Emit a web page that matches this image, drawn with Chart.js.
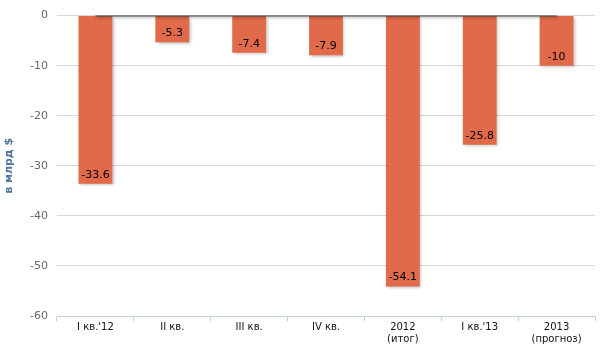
<!DOCTYPE html>
<html><head><meta charset="utf-8">
<script src="https://cdn.jsdelivr.net/npm/chart.js@4.4.0/dist/chart.umd.min.js"></script>
<style>html,body{margin:0;padding:0;background:#fff}#wrap{width:600px;height:356px}</style>
</head><body><div id="wrap"><canvas id="c" width="600" height="356"></canvas></div>
<script>
const categories = ["I кв.'12", "II кв.", "III кв.", "IV кв.", ["2012", "(итог)"], "I кв.'13", ["2013", "(прогноз)"]];
const values = [-33.6, -5.3, -7.4, -7.9, -54.1, -25.8, -10];
const zeroLine = [0, 0, 0, 0, 0, 0, 0];
const yTicks = [0, -10, -20, -30, -40, -50, -60];
const yTitle = "в млрд $";

const shadowPlugin = {
  id: 'shadow',
  beforeDatasetDraw(chart, args) {
    const ctx = chart.ctx;
    ctx.save();
    ctx.shadowColor = 'rgba(0,0,0,0.28)';
    ctx.shadowOffsetX = 1.5;
    ctx.shadowOffsetY = 1.5;
    ctx.shadowBlur = 3;
  },
  afterDatasetDraw(chart, args) {
    chart.ctx.restore();
  }
};

const labelPlugin = {
  id: 'vlabels',
  afterDatasetsDraw(chart) {
    const ctx = chart.ctx;
    const meta = chart.getDatasetMeta(0);
    ctx.save();
    ctx.font = '11px "DejaVu Sans", Verdana, sans-serif';
    ctx.fillStyle = '#000';
    ctx.textAlign = 'center';
    ctx.textBaseline = 'middle';
    meta.data.forEach((bar, i) => {
      ctx.fillText(String(values[i]), bar.x, bar.y - 9);
    });
    ctx.restore();
  }
};

new Chart(document.getElementById('c'), {
  data: {
    labels: categories,
    datasets: [
      {
        type: 'bar',
        data: values,
        backgroundColor: '#E06A49',
        borderWidth: 0,
        barPercentage: 0.44,
        categoryPercentage: 1.0,
        order: 2
      },
      {
        type: 'line',
        data: zeroLine,
        borderColor: '#444444',
        borderWidth: 2,
        pointRadius: 0,
        order: 1
      }
    ]
  },
  options: {
    responsive: false,
    animation: false,
    devicePixelRatio: 1,
    layout: { padding: { top: 6.4, right: 5, left: 0, bottom: 0 } },
    plugins: { legend: { display: false }, tooltip: { enabled: false } },
    scales: {
      x: {
        offset: true,
        grid: { offset: true, drawOnChartArea: false, drawTicks: true, tickLength: 5, color: '#C0D0E0' },
        border: { color: '#C0D0E0', width: 1 },
        ticks: { color: '#111', font: { family: '"DejaVu Sans", Verdana, sans-serif', size: 10 }, padding: 0, maxRotation: 0, autoSkip: false },
        afterFit(s) { s.height = 40; }
      },
      y: {
        min: -60, max: 0,
        afterBuildTicks(s) { s.ticks = yTicks.map(v => ({ value: v })); },
        grid: { color: '#D8D8D8', drawTicks: false },
        border: { display: false },
        ticks: { color: '#666', font: { family: '"DejaVu Sans", Verdana, sans-serif', size: 11 }, padding: 9 },
        title: { display: true, text: yTitle, color: '#4D759E', font: { family: '"DejaVu Sans", Verdana, sans-serif', size: 11, weight: 'bold' }, padding: { top: 3, bottom: 0 } },
        afterFit(s) { s.width = 57; }
      }
    }
  },
  plugins: [shadowPlugin, labelPlugin]
});
</script></body></html>
